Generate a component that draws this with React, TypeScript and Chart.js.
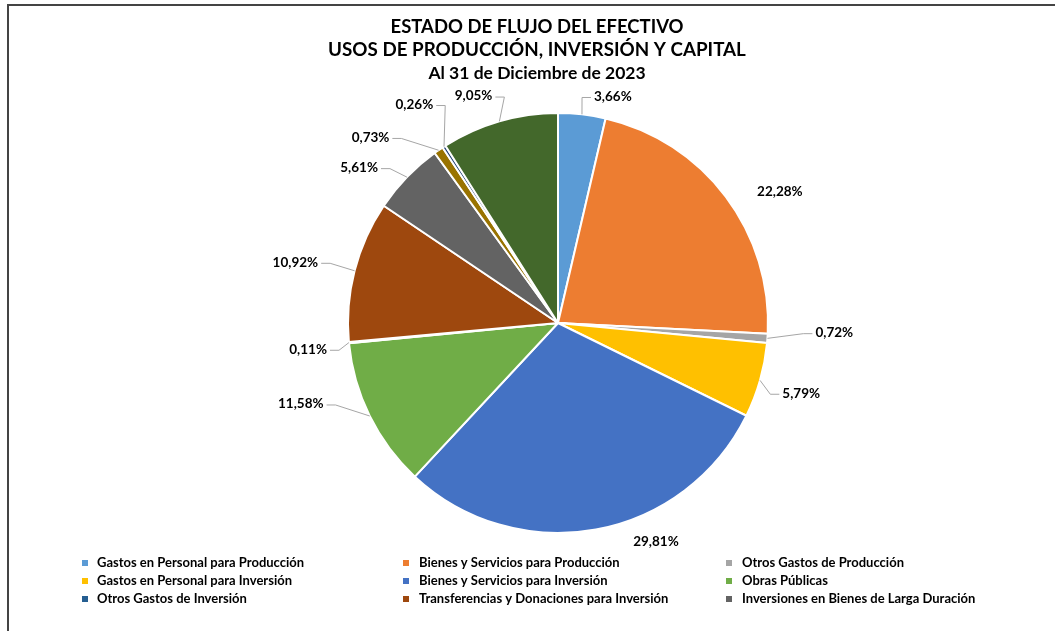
import React, { useEffect, useRef } from "react";
import { Chart, registerables } from "chart.js";

Chart.register(...registerables);

const categories = [
  "Gastos en Personal para Producción",
  "Bienes y Servicios para Producción",
  "Otros Gastos de Producción",
  "Gastos en Personal para Inversión",
  "Bienes y Servicios para Inversión",
  "Obras Públicas",
  "Otros Gastos de Inversión",
  "Transferencias y Donaciones para Inversión",
  "Inversiones en Bienes de Larga Duración",
  "Inversiones Financieras",
  "Otros Gastos de Capital",
  "Servicio de la Deuda",
];

const percentages = [3.66, 22.28, 0.72, 5.79, 29.81, 11.58, 0.11, 10.92, 5.61, 0.73, 0.26, 9.05];

const sliceColors = [
  "#5B9BD5", "#ED7D31", "#A5A5A5", "#FFC000", "#4472C4", "#70AD47",
  "#255E91", "#9E480E", "#636363", "#997300", "#264478", "#43682B",
];

const titleLines = [
  "ESTADO DE FLUJO DEL EFECTIVO",
  "USOS DE PRODUCCIÓN, INVERSIÓN Y CAPITAL",
  "Al 31 de Diciembre de 2023",
];

// number of legend entries visible in the (cropped) legend
const legendVisible = 9;

// label placement tweaks (px) relative to the default elbow point, and leader on/off
const labelNudges: [number, number, boolean][] = [
  [6, 0, true],
  [13, 6, false],
  [26, -7, true],
  [1, 8, true],
  [30, -6, false],
  [-26, -20, true],
  [0, 5, true],
  [-15, -4, true],
  [-12, 3, true],
  [-35, 2, true],
  [3, -27, true],
  [2, -8, true],
];

const fmtPct = (v: number) => v.toFixed(2).replace(".", ",") + "%";

const FONT = "Lato, 'Open Sans', sans-serif";

const decorPlugin = {
  id: "decor",
  beforeDraw(chart: any) {
    const ctx = chart.ctx;
    ctx.save();
    ctx.fillStyle = "#ffffff";
    ctx.fillRect(0, 0, chart.width, chart.height);
    ctx.fillStyle = "#444444";
    ctx.fillRect(7, 4, chart.width, 2);
    ctx.fillRect(7, 4, 2, chart.height);
    ctx.restore();
  },
  afterDraw(chart: any) {
    const ctx = chart.ctx;
    ctx.save();
    // titles
    ctx.fillStyle = "#000000";
    ctx.textAlign = "center";
    ctx.textBaseline = "middle";
    const titleFonts = ["bold 18.5px " + FONT, "bold 18.8px " + FONT, "bold 17.5px " + FONT];
    const titleY = [27, 50, 73];
    titleLines.forEach((t, i) => {
      ctx.font = titleFonts[i];
      ctx.fillText(t, 537, titleY[i]);
    });

    // data labels with leader lines
    const meta = chart.getDatasetMeta(0);
    const vals = chart.data.datasets[0].data as number[];
    ctx.font = "bold 13.5px " + FONT;
    meta.data.forEach((arc: any, i: number) => {
      const p = arc.getProps(["x", "y", "startAngle", "endAngle", "outerRadius"], true);
      const mid = (p.startAngle + p.endAngle) / 2;
      const ex = p.x + Math.cos(mid) * p.outerRadius;
      const ey = p.y + Math.sin(mid) * p.outerRadius;
      const side = Math.cos(mid) >= 0 ? 1 : -1;
      const R = p.outerRadius + 18;
      const [nx, ny, leader] = labelNudges[i];
      const tx = p.x + Math.cos(mid) * R + side * 4 + nx;
      const ty = p.y + Math.sin(mid) * R + ny;
      if (leader) {
        ctx.strokeStyle = "#A6A6A6";
        ctx.lineWidth = 1;
        ctx.beginPath();
        ctx.moveTo(ex, ey);
        ctx.lineTo(tx - side * 12, ty + 1);
        ctx.lineTo(tx - side * 3, ty + 1);
        ctx.stroke();
      }
      ctx.fillStyle = "#000000";
      ctx.textAlign = side > 0 ? "left" : "right";
      ctx.textBaseline = "middle";
      ctx.fillText(fmtPct(vals[i]), tx, ty);
    });

    // legend (cropped, 3 columns)
    const labels = chart.data.labels as string[];
    const colX = [85, 406, 729];
    const textX = [97, 419, 742];
    const rowY = [563, 581, 599];
    ctx.font = "bold 13px " + FONT;
    ctx.textAlign = "left";
    ctx.textBaseline = "middle";
    for (let i = 0; i < Math.min(legendVisible, labels.length); i++) {
      const c = i % 3;
      const r = Math.floor(i / 3);
      ctx.fillStyle = sliceColors[i];
      ctx.fillRect(colX[c] - 3, rowY[r] - 3, 6, 6);
      ctx.fillStyle = "#000000";
      ctx.fillText(labels[i], textX[c], rowY[r]);
    }
    ctx.restore();
  },
};

export default function App() {
  const ref = useRef<HTMLCanvasElement | null>(null);
  useEffect(() => {
    if (!ref.current) return;
    const chart = new Chart(ref.current, {
      type: "pie",
      data: {
        labels: categories,
        datasets: [
          {
            data: percentages,
            backgroundColor: sliceColors,
            borderColor: "#ffffff",
            borderWidth: 2,
          },
        ],
      },
      options: {
        responsive: false,
        animation: false,
        devicePixelRatio: 1,
        events: [],
        layout: { padding: { top: 112, bottom: 97, left: 137, right: 76 } },
        plugins: {
          legend: { display: false },
          title: { display: false },
          tooltip: { enabled: false },
        },
      },
      plugins: [decorPlugin],
    });
    return () => chart.destroy();
  }, []);
  return (
    <div style={{ position: "absolute", left: 0, top: 0, width: 1055, height: 631 }}>
      <canvas ref={ref} width={1055} height={631} />
    </div>
  );
}
